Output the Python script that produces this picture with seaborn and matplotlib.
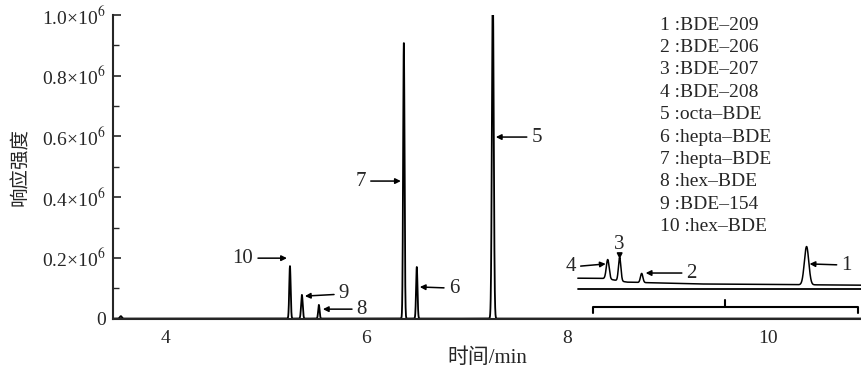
import matplotlib.pyplot as plt
import seaborn as sns
import numpy as np
import pandas as pd

# peaks of the main trace (min, response)
peak_t = [3.56, 5.244, 5.363, 5.532, 6.378, 6.507, 7.264]
peak_h = [0.008e6, 0.173e6, 0.078e6, 0.045e6, 0.909e6, 0.170e6, 1.08e6]
peak_w = [0.010, 0.007, 0.008, 0.007, 0.007, 0.007, 0.009]

# enlarged trace (inset) drawn over 8.1-10.9 min
inset_base_t = [8.11, 8.38, 8.60, 9.30, 10.93]
inset_base_y = [0.133e6, 0.132e6, 0.120e6, 0.114e6, 0.110e6]
inset_peak_t = [8.408, 8.527, 8.746, 10.388]
inset_peak_h = [0.064e6, 0.077e6, 0.030e6, 0.126e6]
inset_peak_w = [0.014, 0.012, 0.012, 0.022]
inset_line_y = 0.099e6
bracket_x = [8.259, 10.905]
bracket_mid = 9.572
bracket_y = [0.018e6, 0.038e6, 0.061e6]

# peak labels: text, label pos, arrow tip
labels = ['10', '9', '8', '7', '6', '5', '4', '3', '2', '1']
lab_x = [4.776, 5.781, 5.960, 5.950, 6.876, 7.701, 8.040, 8.527, 9.244, 10.786]
lab_y = [0.199e6, 0.081e6, 0.031e6, 0.453e6, 0.100e6, 0.598e6, 0.170e6, 0.245e6, 0.150e6, 0.176e6]
tip_x = [5.214, 5.393, 5.572, 6.348, 6.537, 7.294, 8.388, 8.527, 8.786, 10.418]
tip_y = [0.199e6, 0.074e6, 0.031e6, 0.453e6, 0.104e6, 0.598e6, 0.180e6, 0.196e6, 0.150e6, 0.180e6]

legend_items = ['1 :BDE–209', '2 :BDE–206', '3 :BDE–207', '4 :BDE–208', '5 :octa–BDE',
                '6 :hepta–BDE', '7 :hepta–BDE', '8 :hex–BDE', '9 :BDE–154', '10 :hex–BDE']

yticks = [0, 0.2e6, 0.4e6, 0.6e6, 0.8e6, 1.0e6]
ytick_labels = ['0', '0.2×10$^6$', '0.4×10$^6$', '0.6×10$^6$', '0.8×10$^6$', '1.0×10$^6$']
xticks = [4, 6, 8, 10]

sns.set_style('ticks')
plt.rcParams['font.family'] = ['Liberation Serif', 'Noto Sans CJK SC']
plt.rcParams['mathtext.fontset'] = 'stix'

t = np.linspace(3.48, 10.93, 9000)
main = np.zeros_like(t)
for c, h, w in zip(peak_t, peak_h, peak_w):
    main += h * np.exp(-0.5 * ((t - c) / w) ** 2)

ti = t[t >= inset_base_t[0]]
inset = np.interp(ti, inset_base_t, inset_base_y)
for c, h, w in zip(inset_peak_t, inset_peak_h, inset_peak_w):
    inset += h * np.exp(-0.5 * ((ti - c) / w) ** 2)

df_main = pd.DataFrame({'t': t, 'y': main})
df_inset = pd.DataFrame({'t': ti, 'y': inset})

fig = plt.figure(figsize=(8.61, 3.67), dpi=100)
ax = fig.add_axes([0.131, 0.132, 0.869, 0.827])

sns.lineplot(data=df_main, x='t', y='y', ax=ax, color='black', lw=1.3, estimator=None, sort=False)
sns.lineplot(data=df_inset, x='t', y='y', ax=ax, color='black', lw=1.1, estimator=None, sort=False)
ax.plot([inset_base_t[0], inset_base_t[-1]], [inset_line_y, inset_line_y], color='black', lw=1.3)

# bracket
bx0, bx1 = bracket_x
ax.plot([bx0, bx0, bx1, bx1], [bracket_y[0], bracket_y[1], bracket_y[1], bracket_y[0]],
        color='black', lw=1.5)
ax.plot([bracket_mid, bracket_mid], [bracket_y[1], bracket_y[2]], color='black', lw=1.5)

for s, lx, ly, tx, ty in zip(labels, lab_x, lab_y, tip_x, tip_y):
    ax.annotate(s, xy=(tx, ty), xytext=(lx, ly), ha='center', va='center', fontsize=15,
                arrowprops=dict(arrowstyle='-|>', color='black', lw=1.1,
                                mutation_scale=8, shrinkA=1, shrinkB=0))

for i, s in enumerate(legend_items):
    ax.text(8.925, 0.967e6 - i * 0.0738e6, s, fontsize=14, ha='left', va='center')

ax.set_xlim(3.48, 10.93)
ax.set_ylim(0, 1.0e6)
ax.set_xticks(xticks)
ax.set_xticklabels([str(v) for v in xticks], fontsize=14)
ax.set_yticks(yticks)
ax.set_yticklabels(ytick_labels, fontsize=14)
ax.set_yticks(np.arange(0.1e6, 1.0e6, 0.2e6), minor=True)
ax.tick_params(axis='x', length=0, pad=8)
ax.tick_params(axis='y', which='major', direction='in', length=6, width=1.2, pad=5)
ax.tick_params(axis='y', which='minor', direction='in', length=4, width=1.0)

ax.set_xlabel('时间/min', fontsize=15, labelpad=1)
ax.set_ylabel('响应强度', fontsize=14, family='Noto Sans CJK SC', labelpad=8)

for side in ['top', 'right']:
    ax.spines[side].set_visible(False)
ax.spines['left'].set_linewidth(1.5)
ax.spines['bottom'].set_linewidth(1.5)

fig.savefig('out.png', dpi=100)
